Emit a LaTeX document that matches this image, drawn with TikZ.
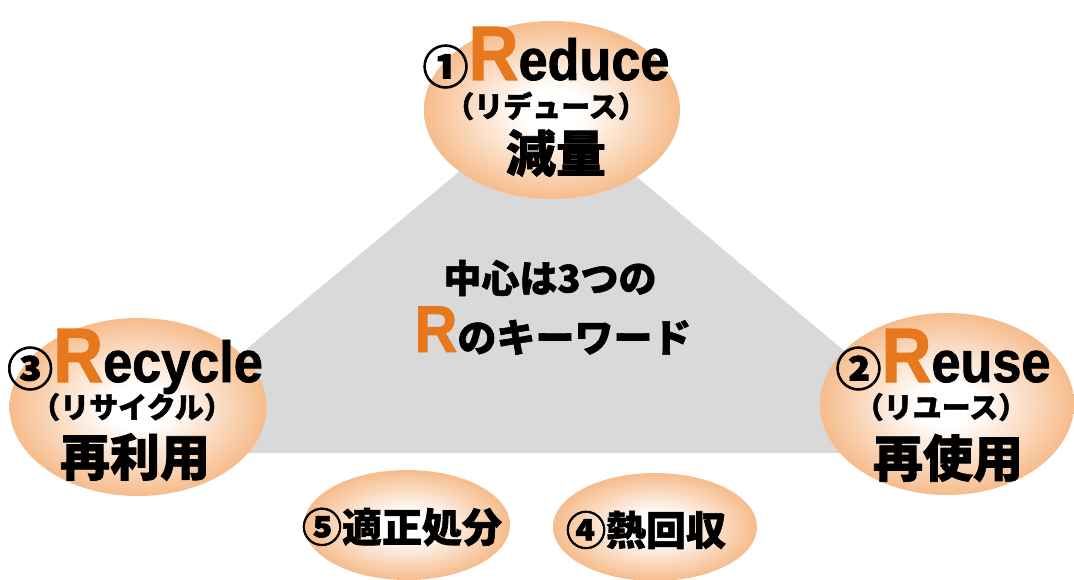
\documentclass[tikz,border=0pt]{standalone}
\usepackage{fontspec}
\usepackage{graphicx}
\usetikzlibrary{shapes.geometric}
\setmainfont{Liberation Sans}
\newfontfamily\heavy{Liberation Sans}[BoldFeatures={FakeBold=1.5}]
\newfontfamily\jp{Noto Sans CJK JP}[BoldFeatures={FakeBold=1.5}]
\definecolor{rorange}{RGB}{232,120,30}
\definecolor{peach}{RGB}{246,188,140}
\definecolor{tricol}{RGB}{217,217,217}
\pgfdeclareradialshading{eggshade}{\pgfpoint{0bp}{0bp}}{color(0bp)=(white); color(6bp)=(white); color(25bp)=(peach); color(50bp)=(peach)}
\newcommand\rword[2]{\raisebox{-4pt}{\jp\bfseries\fontsize{46}{46}\selectfont #1}\scalebox{0.9}[1]{\heavy\bfseries\fontsize{77}{77}\selectfont\textcolor{rorange}{R}\fontsize{58}{58}\selectfont #2}}
\newcommand\jtxt[2]{{\jp\bfseries\fontsize{#1}{#1}\selectfont #2}}
\begin{document}
\begin{tikzpicture}[x=1pt,y=-1pt,
  eggnode/.style n args={2}{ellipse, shading=eggshade, minimum width=#1pt, minimum height=#2pt, inner sep=0pt},
  txt/.style={inner sep=0pt, outer sep=0pt}]
\useasboundingbox (0,0) rectangle (1074,580);
\fill[white] (0,0) rectangle (1074,580);
% central triangle
\fill[tricol] (545,100) -- (966,453) -- (122,453) -- cycle;
% ellipses
\node[eggnode={256}{178}] (reduce) at (552,110) {};
\node[eggnode={257}{178}] (recycle) at (138,407) {};
\node[eggnode={254}{182}] (reuse) at (947,404) {};
\node[eggnode={206}{110}] (disposal) at (407,525) {};
\node[eggnode={204}{108}] (heat) at (655,527) {};
% Reduce
\node[txt, anchor=base] (reduceA) at (546,80) {\rword{①}{educe}};
\node[txt] (reduceB) at (546,106) {\jtxt{29}{（リデュース）}};
\node[txt] (reduceC) at (556,153) {\jtxt{50}{減量}};
% Recycle
\node[txt, anchor=base] (recycleA) at (135,382) {\rword{③}{ecycle}};
\node[txt] (recycleB) at (132,407) {\jtxt{29}{（リサイクル）}};
\node[txt] (recycleC) at (135,457) {\jtxt{50}{再利用}};
% Reuse
\node[txt, anchor=base] (reuseA) at (943,382) {\rword{②}{euse}};
\node[txt] (reuseB) at (941,407) {\jtxt{29}{（リユース）}};
\node[txt] (reuseC) at (948,458) {\jtxt{50}{再使用}};
% bottom
\node[txt] (disposalT) at (402,527) {\jtxt{40}{⑤適正処分}};
\node[txt] (heatT) at (646,530) {\jtxt{40}{④熱回収}};
% centre
\node[txt] (centreA) at (550,278) {\jtxt{38}{中心は3つの}};
\node[txt, anchor=base] (centreB) at (553,352) {\scalebox{0.9}[1]{\heavy\bfseries\fontsize{66}{66}\selectfont\textcolor{rorange}{R}}\jtxt{39}{のキーワード}};
\end{tikzpicture}
\end{document}
